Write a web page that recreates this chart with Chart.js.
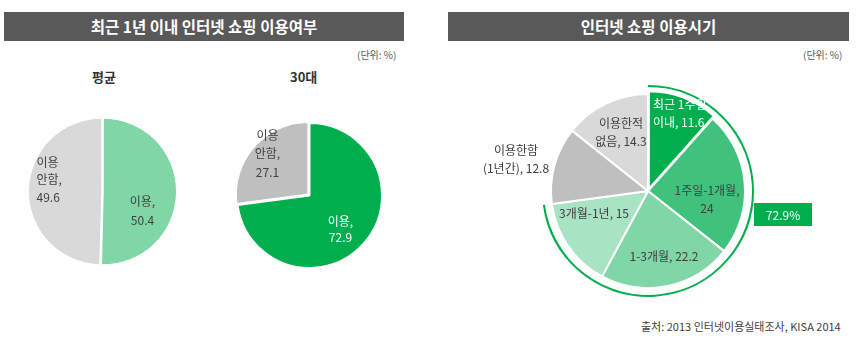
<!DOCTYPE html>
<html>
<head>
<meta charset="utf-8">
<script src="https://cdn.jsdelivr.net/npm/chart.js@4"></script>
<style>
  body { margin: 0; background: #fff; font-family: "Noto Sans CJK KR", "Noto Sans", sans-serif; }
  #wrap { position: relative; width: 856px; height: 350px; overflow: hidden; }
  .head { position: absolute; top: 12px; height: 29px; background: #595959; color: #fff;
          font-size: 15.5px; font-weight: bold; text-align: center; line-height: 29px; }
  .unit { position: absolute; top: 47px; font-size: 10px; color: #595959; }
  .sub { position: absolute; top: 67px; font-size: 13px; color: #333; font-weight: bold; }
  .src { position: absolute; top: 318px; left: 641px; font-size: 11px; color: #404040; }
  canvas { position: absolute; }
</style>
</head>
<body>
<div id="wrap">
  <div class="head" style="left:4px;width:400px">최근 1년 이내 인터넷 쇼핑 이용여부</div>
  <div class="head" style="left:448px;width:401px">인터넷 쇼핑 이용시기</div>
  <div class="unit" style="left:357px">(단위: %)</div>
  <div class="unit" style="left:803px">(단위: %)</div>
  <div class="sub" style="left:92px">평균</div>
  <div class="sub" style="left:290px">30대</div>
  <div class="src">출처: 2013 인터넷이용실태조사, KISA 2014</div>

  <div style="position:absolute;left:28px;top:117px;width:149px;height:149px"><canvas id="avg"></canvas></div>
  <div style="position:absolute;left:233px;top:119px;width:153px;height:153px"><canvas id="age30"></canvas></div>
  <div style="position:absolute;left:440px;top:60px;width:416px;height:262px"><canvas id="when"></canvas></div>
</div>

<script>
// 평균 / 30대 이용여부
const useCats = ['이용', '이용\n안함'];
const useAvg = [50.4, 49.6];
const use30 = [72.9, 27.1];

// 이용시기
const whenCats = ['최근 1주일\n이내', '1주일-1개월', '1-3개월', '3개월-1년', '이용한함\n(1년간)', '이용한적\n없음'];
const whenVals = [11.6, 24, 22.2, 15, 12.8, 14.3];
// 1년 이내 이용 합계 (앞의 네 구간)
const withinYear = [72.9, 27.1];

const FONT = '"Noto Sans CJK KR", "Noto Sans", sans-serif';

// draws "name, value" text inside/around each slice
const sliceLabels = {
  id: 'sliceLabels',
  afterDatasetsDraw(chart, args, opts) {
    if (!opts.items) return;
    const meta = chart.getDatasetMeta(opts.dataset || 0);
    const data = chart.data.datasets[opts.dataset || 0].data;
    const names = opts.names;
    const ctx = chart.ctx;
    ctx.save();
    ctx.font = '12px ' + FONT;
    ctx.textBaseline = 'middle';
    opts.items.forEach((it, i) => {
      const arc = meta.data[i];
      const txt = names[i] + ',' + (it.br ? '\n' : ' ') + data[i];
      const lines = txt.split('\n');
      const lh = it.lh || 18;
      ctx.fillStyle = it.color || '#404040';
      ctx.textAlign = it.align || 'center';
      const y0 = arc.y + it.dy - (lines.length - 1) * lh / 2;
      lines.forEach((l, k) => ctx.fillText(l, arc.x + it.dx, y0 + k * lh));
    });
    ctx.restore();
  }
};

// green tag showing the within-a-year total next to the outline ring
const totalTag = {
  id: 'totalTag',
  afterDatasetsDraw(chart, args, opts) {
    if (!opts.show) return;
    const arc = chart.getDatasetMeta(0).data[0];
    const ctx = chart.ctx;
    const x = arc.x + 106, y = arc.y + 12;
    ctx.save();
    ctx.fillStyle = '#00ae4d';
    ctx.fillRect(x, y, 58, 23);
    ctx.fillStyle = '#fff';
    ctx.font = '12px ' + FONT;
    ctx.textAlign = 'center';
    ctx.textBaseline = 'middle';
    ctx.fillText(chart.data.datasets[0].data[0] + '%', x + 29, y + 12);
    ctx.restore();
  }
};

const baseOpts = {
  responsive: true,
  maintainAspectRatio: false,
  animation: false,
  events: [],
  plugins: { legend: { display: false }, tooltip: { enabled: false } }
};

new Chart(document.getElementById('avg'), {
  type: 'pie',
  data: {
    labels: useCats,
    datasets: [{
      data: useAvg,
      backgroundColor: ['#80d6a6', '#d9d9d9'],
      borderColor: '#fff',
      borderWidth: 1,
      offset: 3,
      hoverOffset: 3
    }]
  },
  options: Object.assign({}, baseOpts, {
    radius: 72.5,
    plugins: Object.assign({}, baseOpts.plugins, {
      sliceLabels: {
        names: useCats,
        items: [
          { dx: 40, dy: 19, br: true, lh: 19 },
          { dx: -66, dy: -12, br: true, align: 'left', lh: 17.5 }
        ]
      }
    })
  }),
  plugins: [sliceLabels]
});

new Chart(document.getElementById('age30'), {
  type: 'pie',
  data: {
    labels: useCats,
    datasets: [{
      data: use30,
      backgroundColor: ['#00ae4d', '#bfbfbf'],
      borderColor: '#fff',
      borderWidth: 2,
      offset: [0, 6],
      hoverOffset: 6
    }]
  },
  options: Object.assign({}, baseOpts, {
    radius: 72.5,
    plugins: Object.assign({}, baseOpts.plugins, {
      sliceLabels: {
        names: useCats,
        items: [
          { dx: 31, dy: 34, br: true, color: '#fff', lh: 16 },
          { dx: -42, dy: -42, br: true, lh: 18.5 }
        ]
      }
    })
  }),
  plugins: [sliceLabels]
});

new Chart(document.getElementById('when'), {
  type: 'pie',
  data: {
    labels: whenCats,
    datasets: [{
      // thin outline ring around the within-a-year share
      data: withinYear,
      backgroundColor: ['#00ae4d', 'rgba(0,0,0,0)'],
      borderWidth: 0,
      hoverBorderWidth: 0,
      hoverOffset: 9,
      weight: 2
    }, {
      data: withinYear,
      backgroundColor: 'rgba(0,0,0,0)',
      borderWidth: 0,
      hoverBorderWidth: 0,
      hoverOffset: 9,
      weight: 7
    }, {
      data: whenVals,
      backgroundColor: ['#00ae4d', '#40c27c', '#80d6a6', '#a8e3c3', '#bfbfbf', '#d9d9d9'],
      borderColor: '#fff',
      borderWidth: 2,
      offset: [9, 0, 0, 0, 0, 0],
      hoverOffset: 9,
      weight: 97
    }]
  },
  options: Object.assign({}, baseOpts, {
    radius: 106,
    layout: { padding: { left: 96.5, right: 96.5, top: 19.5, bottom: 19.5 } },
    plugins: Object.assign({}, baseOpts.plugins, {
      totalTag: { show: true },
      sliceLabels: {
        dataset: 2,
        names: whenCats,
        items: [
          { dx: 5, dy: -78, align: 'left', color: '#fff' },
          { dx: 59, dy: 8, br: true },
          { dx: 16, dy: 65 },
          { dx: -54, dy: 22 },
          { dx: -132, dy: -32 },
          { dx: -27, dy: -59 }
        ]
      }
    })
  }),
  plugins: [sliceLabels, totalTag]
});
</script>
</body>
</html>
